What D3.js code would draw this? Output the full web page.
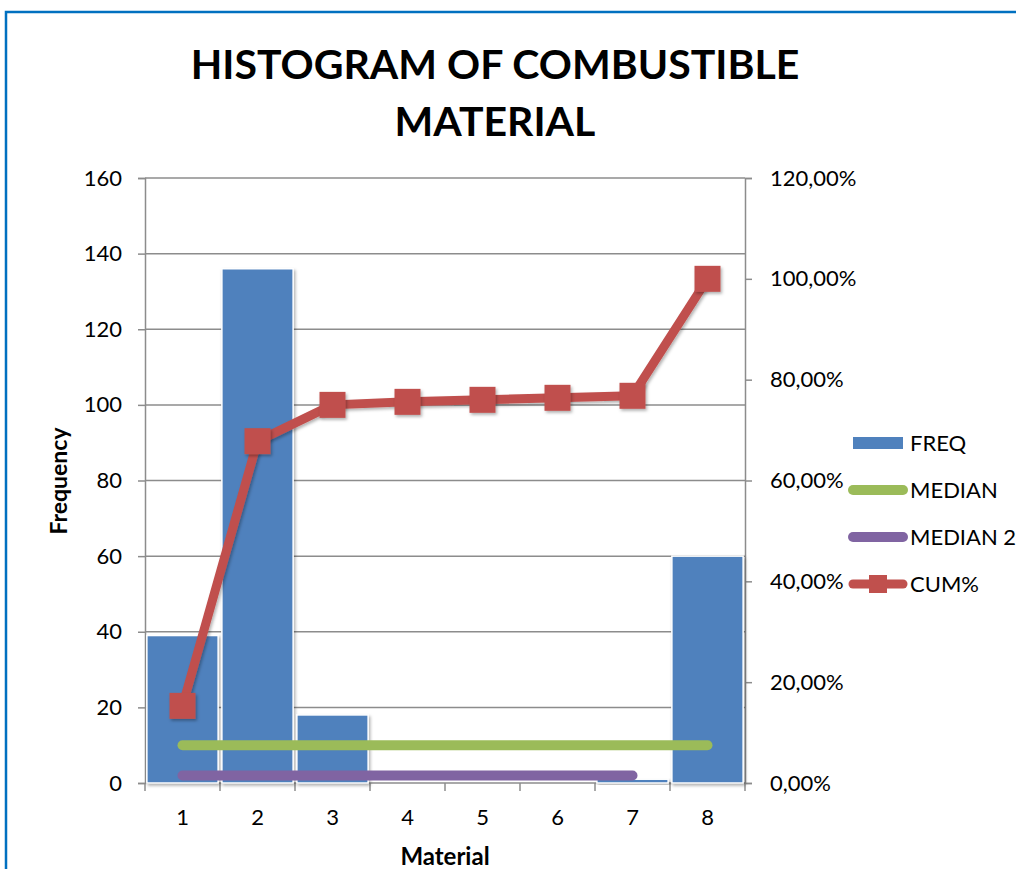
<!DOCTYPE html>
<html>
<head>
<meta charset="utf-8">
<script src="https://cdn.jsdelivr.net/npm/d3@7"></script>
<style>
  body { margin: 0; background: #fff; }
  svg { display: block; }
</style>
</head>
<body>
<div id="chart"></div>
<script>
var categories = ["1", "2", "3", "4", "5", "6", "7", "8"];
var freq = [39, 136, 18, 0, 0, 0, 1, 60];
var median = [10, 10, 10, 10, 10, 10, 10, 10];
var median2 = [2, 2, 2, 2, 2, 2, 2, null];
var cum = [0.153, 0.678, 0.750, 0.756, 0.760, 0.764, 0.768, 1.0];
var leftTicks = [0, 20, 40, 60, 80, 100, 120, 140, 160];
var rightTicks = [0, 0.2, 0.4, 0.6, 0.8, 1.0, 1.2];
var legendNames = ["FREQ", "MEDIAN", "MEDIAN 2", "CUM%"];

var font = "Lato, 'Open Sans', sans-serif";
var blue = "#4F81BD", green = "#9BBB59", purple = "#8064A2", red = "#C0504D";

var svg = d3.select("#chart")
            .append("svg")
            .attr("width", 1016)
            .attr("height", 869);

var defs = svg.append("defs");
var shadow = defs.append("filter")
   .attr("id", "shadow")
   .attr("x", "-30%").attr("y", "-30%")
   .attr("width", "160%").attr("height", "160%");
shadow.append("feDropShadow")
   .attr("dx", 1.5).attr("dy", 2)
   .attr("stdDeviation", 1.5)
   .attr("flood-color", "#000")
   .attr("flood-opacity", 0.3);

// outer frame
svg.append("rect")
   .attr("x", 6).attr("y", 12)
   .attr("width", 1030).attr("height", 880)
   .attr("fill", "none")
   .attr("stroke", "#0070C0")
   .attr("stroke-width", 2.5);

var plotLeft = 145, plotRight = 745, plotTop = 178, plotBottom = 783;

var x = d3.scaleBand()
          .domain(categories)
          .range([plotLeft, plotRight])
          .paddingInner(0.05)
          .paddingOuter(0.025);
var xc = d3.scaleBand().domain(categories).range([plotLeft, plotRight]);
var y = d3.scaleLinear().domain([0, 160]).range([plotBottom, plotTop]);
var y2 = d3.scaleLinear().domain([0, 1.2]).range([plotBottom, plotTop]);

// gridlines
svg.selectAll("gridline")
   .data(leftTicks.slice(1))
   .enter()
   .append("line")
   .attr("x1", plotLeft).attr("x2", plotRight)
   .attr("y1", function(d) { return y(d); })
   .attr("y2", function(d) { return y(d); })
   .attr("stroke", "#8c8c8c")
   .attr("stroke-width", 1.5);

// axes
var gl = svg.append("g")
   .attr("transform", "translate(" + plotLeft + ",0)")
   .call(d3.axisLeft(y).tickValues(leftTicks).tickSize(7).tickPadding(16));
var gr = svg.append("g")
   .attr("transform", "translate(" + plotRight + ",0)")
   .call(d3.axisRight(y2).tickValues(rightTicks).tickSize(7).tickPadding(18)
      .tickFormat(function(d) { return d3.format(".2f")(d * 100).replace(".", ",") + "%"; }));
var gb = svg.append("g")
   .attr("transform", "translate(0," + plotBottom + ")")
   .call(d3.axisBottom(xc).tickSize(0).tickPadding(26));

[gl, gr, gb].forEach(function(g) {
  g.select(".domain").attr("stroke", "#8c8c8c").attr("stroke-width", 1.5);
  g.selectAll(".tick line").attr("stroke", "#8c8c8c").attr("stroke-width", 1.5);
  g.selectAll("text")
   .attr("font-family", font)
   .attr("font-size", "22px")
   .attr("fill", "#000");
});
gb.select(".domain").attr("d", "M" + plotLeft + ",0H" + plotRight);

// category boundary ticks on x axis
svg.selectAll("xtick")
   .data(categories.concat(["end"]))
   .enter()
   .append("line")
   .attr("x1", function(d, i) { return plotLeft + i * xc.step(); })
   .attr("x2", function(d, i) { return plotLeft + i * xc.step(); })
   .attr("y1", plotBottom)
   .attr("y2", plotBottom + 8)
   .attr("stroke", "#8c8c8c")
   .attr("stroke-width", 1.5);

// bars
svg.selectAll("bar")
   .data(freq)
   .enter()
   .append("rect")
   .attr("x", function(d, i) { return x(categories[i]); })
   .attr("y", function(d) { return y(d); })
   .attr("width", x.bandwidth())
   .attr("height", function(d) { return plotBottom - y(d); })
   .attr("fill", blue)
   .attr("stroke", "#fff")
   .attr("stroke-width", 1.5)
   .attr("filter", "url(#shadow)");

var line = d3.line()
   .defined(function(d) { return d != null; })
   .x(function(d, i) { return xc(categories[i]) + xc.bandwidth() / 2; })
   .y(function(d) { return y(d); });

svg.append("path")
   .attr("d", line(median))
   .attr("fill", "none")
   .attr("stroke", green)
   .attr("stroke-width", 10)
   .attr("stroke-linecap", "round");

svg.append("path")
   .attr("d", line(median2))
   .attr("fill", "none")
   .attr("stroke", purple)
   .attr("stroke-width", 10)
   .attr("stroke-linecap", "round");

var cumLine = d3.line()
   .x(function(d, i) { return xc(categories[i]) + xc.bandwidth() / 2; })
   .y(function(d) { return y2(d); });

svg.append("path")
   .attr("d", cumLine(cum))
   .attr("fill", "none")
   .attr("stroke", red)
   .attr("stroke-width", 9)
   .attr("stroke-linejoin", "round")
   .attr("filter", "url(#shadow)");

svg.selectAll("marker")
   .data(cum)
   .enter()
   .append("rect")
   .attr("x", function(d, i) { return xc(categories[i]) + xc.bandwidth() / 2 - 13; })
   .attr("y", function(d) { return y2(d) - 13; })
   .attr("width", 26)
   .attr("height", 26)
   .attr("fill", red)
   .attr("filter", "url(#shadow)");

// title
svg.selectAll("title")
   .data(["HISTOGRAM OF COMBUSTIBLE", "MATERIAL"])
   .enter()
   .append("text")
   .text(function(d) { return d; })
   .attr("x", 495)
   .attr("y", function(d, i) { return 79 + i * 57; })
   .attr("text-anchor", "middle")
   .attr("font-family", font)
   .attr("font-weight", "bold")
   .attr("font-size", "41px");

// axis titles
svg.append("text")
   .text("Frequency")
   .attr("transform", "translate(67,481) rotate(-90)")
   .attr("text-anchor", "middle")
   .attr("font-family", font)
   .attr("font-weight", "bold")
   .attr("font-size", "23px");

svg.append("text")
   .text("Material")
   .attr("x", 445)
   .attr("y", 865)
   .attr("text-anchor", "middle")
   .attr("font-family", font)
   .attr("font-weight", "bold")
   .attr("font-size", "24px");

// legend
var legend = svg.selectAll("legend")
   .data(legendNames)
   .enter()
   .append("g")
   .attr("transform", function(d, i) { return "translate(848," + (443 + i * 47) + ")"; });

legend.append("text")
   .text(function(d) { return d; })
   .attr("x", 62)
   .attr("y", 8)
   .attr("font-family", font)
   .attr("font-size", "22px");

legend.filter(function(d, i) { return i == 0; })
   .append("rect")
   .attr("x", 5).attr("y", -6)
   .attr("width", 50).attr("height", 12)
   .attr("fill", blue);

legend.filter(function(d, i) { return i == 1 || i == 2; })
   .append("line")
   .attr("x1", 5).attr("x2", 55)
   .attr("y1", 0).attr("y2", 0)
   .attr("stroke", function(d, i) { return i == 0 ? green : purple; })
   .attr("stroke-width", 10)
   .attr("stroke-linecap", "round");

var cumLeg = legend.filter(function(d, i) { return i == 3; });
cumLeg.append("line")
   .attr("x1", 5).attr("x2", 55)
   .attr("y1", 0).attr("y2", 0)
   .attr("stroke", red)
   .attr("stroke-width", 9)
   .attr("stroke-linecap", "round");
cumLeg.append("rect")
   .attr("x", 21).attr("y", -9)
   .attr("width", 18).attr("height", 18)
   .attr("fill", red);
</script>
</body>
</html>
